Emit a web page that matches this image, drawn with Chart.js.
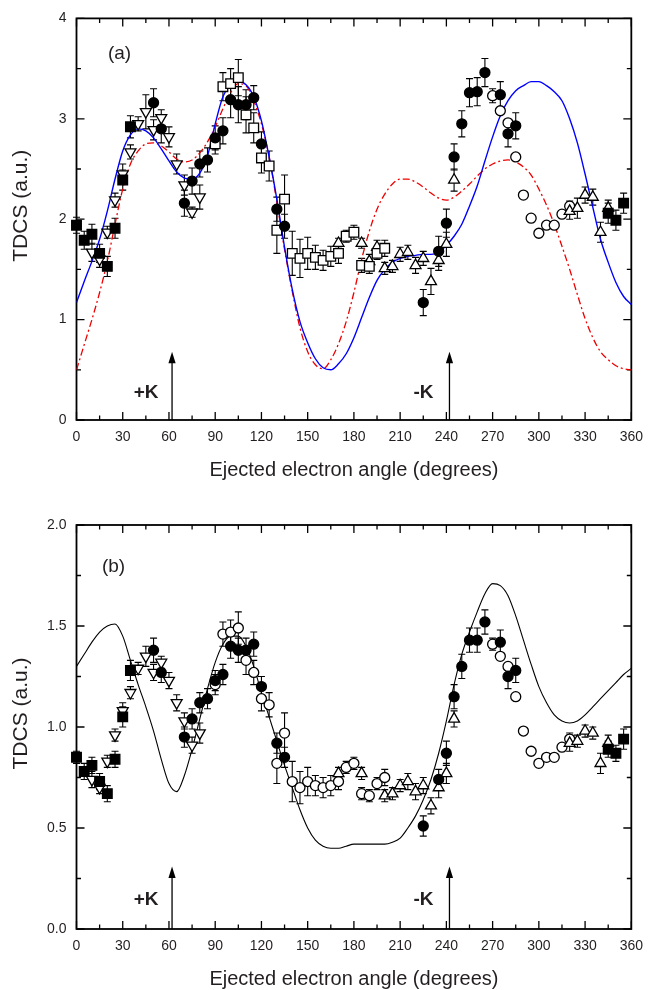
<!DOCTYPE html>
<html><head><meta charset="utf-8">
<script src="https://cdn.jsdelivr.net/npm/chart.js@4.4.1/dist/chart.umd.min.js"></script>
<style>
html,body{margin:0;padding:0;background:#fff;}
#wrap{position:relative;width:652px;height:990px;background:#fff;}
#ca{position:absolute;left:0;top:0;}
#cb{position:absolute;left:0;top:490px;}
</style></head><body>
<div id="wrap"><canvas id="ca" width="652" height="490"></canvas><canvas id="cb" width="652" height="500"></canvas></div>
<script>
// ---------- axes ----------
const xTickValues = [0,30,60,90,120,150,180,210,240,270,300,330,360];
const xTickLabels = ['0','30','60','90','120','150','180','210','240','270','300','330','360'];
const yTickValuesA = [0,1,2,3,4];
const yTickLabelsA = ['0','1','2','3','4'];
const yTickValuesB = [0,0.5,1,1.5,2];
const yTickLabelsB = ['0.0','0.5','1.0','1.5','2.0'];
const xTitle = 'Ejected electron angle (degrees)';
const yTitle = 'TDCS (a.u.)';
const arrowAngles = [62, 242];
const arrowLabels = ['+K', '-K'];

// ---------- panel (a) data ----------
const aSqFilledX = [0,5,10,15,20,25,30,35,345,350,355];
const aSqFilledY = [1.94,1.79,1.85,1.66,1.53,1.91,2.39,2.92,2.06,1.99,2.16];
const aSqFilledE = [0.08,0.09,0.1,0.09,0.1,0.1,0.1,0.11,0.1,0.1,0.1];

const aDnTriX = [10,15,20,25,30,35,40,45,50,55,60,65,70,75,80];
const aDnTriY = [1.67,1.60,1.87,2.19,2.45,2.67,2.95,3.07,2.89,3.01,2.82,2.55,2.34,2.07,2.22];
const aDnTriE = [0.09,0.08,0.06,0.07,0.1,0.07,0.07,0.17,0.1,0.08,0.1,0.1,0.1,0.05,0.12];

const aCircX = [50,55,70,75,80,85,90,95,100,105,110,115,120,130,135,225,235,240,245,250,255,260,265,275,280,285];
const aCircY = [3.16,2.90,2.16,2.38,2.55,2.59,2.81,2.88,3.19,3.14,3.14,3.21,2.75,2.10,1.93,1.17,1.68,1.96,2.62,2.95,3.26,3.27,3.46,3.24,2.85,2.93];
const aCircE = [0.14,0.14,0.13,0.13,0.13,0.12,0.12,0.13,0.18,0.18,0.15,0.12,0.12,0.12,0.12,0.13,0.15,0.14,0.13,0.13,0.14,0.14,0.14,0.13,0.13,0.13];

const aSqOpenX = [90,95,100,105,110,115,120,125,130,135,140,145,150,155,160,165,170,175,180,185,190,195,200];
const aSqOpenY = [2.75,3.32,3.35,3.41,3.04,2.91,2.61,2.53,1.89,2.20,1.66,1.61,1.66,1.62,1.59,1.63,1.66,1.83,1.87,1.54,1.53,1.66,1.71];
const aSqOpenE = [0.1,0.14,0.15,0.18,0.18,0.15,0.15,0.15,0.23,0.24,0.22,0.19,0.16,0.12,0.1,0.1,0.1,0.06,0.07,0.07,0.07,0.06,0.08];

const aUpTriX = [170,185,190,195,200,205,210,215,220,225,230,235,240,245,320,325,330,335,340,345];
const aUpTriY = [1.76,1.76,1.58,1.72,1.51,1.53,1.65,1.67,1.54,1.61,1.38,1.59,1.75,2.39,2.08,2.11,2.24,2.22,1.87,2.11];
const aUpTriE = [0.05,0.05,0.07,0.07,0.06,0.06,0.07,0.07,0.08,0.07,0.13,0.1,0.12,0.11,0.08,0.1,0.08,0.08,0.1,0.08];

const aCircOpenX = [270,275,280,285,290,295,300,305,310,315,320];
const aCircOpenY = [3.23,3.08,2.96,2.62,2.24,2.01,1.86,1.94,1.94,2.05,2.13];
const aCircOpenE = [0.07,0,0,0,0,0,0,0,0,0,0.05];

const curveX = [0,5,10,15,20,25,30,35,40,45,50,55,60,65,70,75,80,85,90,95,100,105,110,115,120,125,130,135,140,145,150,155,160,165,170,175,180,185,190,195,200,205,210,215,220,225,230,235,240,245,250,255,260,265,270,275,280,285,290,295,300,305,310,315,320,325,330,335,340,345,350,355,360];
const aBlueY = [1.17,1.38,1.58,1.80,2.08,2.40,2.68,2.84,2.90,2.88,2.81,2.70,2.58,2.47,2.41,2.40,2.46,2.63,2.95,3.22,3.34,3.37,3.34,3.22,2.98,2.62,2.20,1.72,1.30,0.98,0.77,0.61,0.52,0.50,0.56,0.66,0.82,1.02,1.22,1.39,1.50,1.57,1.61,1.63,1.64,1.65,1.65,1.67,1.74,1.83,1.95,2.13,2.33,2.58,2.82,3.03,3.18,3.28,3.33,3.37,3.37,3.33,3.27,3.18,3.00,2.76,2.45,2.12,1.80,1.57,1.37,1.23,1.15];
const aRedY = [0.50,0.75,1.00,1.27,1.58,1.95,2.30,2.55,2.68,2.75,2.76,2.73,2.67,2.60,2.57,2.59,2.66,2.77,2.92,3.10,3.26,3.35,3.33,3.18,2.95,2.62,2.17,1.70,1.28,0.92,0.68,0.55,0.51,0.60,0.76,0.98,1.27,1.60,1.88,2.10,2.25,2.35,2.40,2.40,2.37,2.32,2.26,2.21,2.19,2.22,2.28,2.35,2.43,2.50,2.55,2.58,2.59,2.57,2.52,2.44,2.30,2.14,1.95,1.73,1.50,1.25,1.01,0.82,0.68,0.60,0.54,0.51,0.50];

// ---------- panel (b) data ----------
const bSqFilledX = [0,5,10,15,20,25,30,35,345,350,355];
const bSqFilledY = [0.85,0.78,0.81,0.73,0.67,0.84,1.05,1.28,0.89,0.87,0.94];
const bSqFilledE = [0.03,0.04,0.04,0.04,0.04,0.04,0.05,0.05,0.04,0.04,0.05];

const bDnTriX = [10,15,20,25,30,35,40,45,50,55,60,65,70,75,80];
const bDnTriY = [0.74,0.70,0.83,0.96,1.08,1.17,1.29,1.35,1.27,1.32,1.23,1.12,1.03,0.91,0.97];
const bDnTriE = [0.04,0.03,0.03,0.03,0.04,0.03,0.03,0.05,0.04,0.03,0.04,0.04,0.04,0.04,0.05];

const bCircX = [50,55,70,75,80,85,90,95,100,105,110,115,120,130,135,225,235,240,245,250,255,260,265,275,280,285];
const bCircY = [1.38,1.27,0.95,1.04,1.12,1.14,1.23,1.26,1.40,1.38,1.38,1.41,1.20,0.92,0.85,0.51,0.74,0.87,1.15,1.30,1.43,1.43,1.52,1.42,1.25,1.28];
const bCircE = [0.06,0.05,0.05,0.05,0.05,0.05,0.05,0.05,0.06,0.06,0.06,0.06,0.05,0.05,0.05,0.05,0.05,0.06,0.06,0.06,0.06,0.06,0.06,0.06,0.06,0.06];

const bCircOpenX = [90,95,100,105,110,115,120,125,130,135,140,145,150,155,160,165,170,175,180,185,190,195,200,270,275,280,285,290,295,300,305,310,315,320];
const bCircOpenY = [1.21,1.46,1.47,1.49,1.33,1.27,1.14,1.11,0.82,0.97,0.73,0.70,0.73,0.71,0.70,0.71,0.73,0.80,0.82,0.67,0.66,0.72,0.75,1.41,1.35,1.30,1.15,0.98,0.88,0.82,0.85,0.85,0.90,0.94];
const bCircOpenE = [0.05,0.06,0.06,0.08,0.07,0.06,0.06,0.06,0.1,0.1,0.1,0.08,0.07,0.05,0.05,0.05,0.04,0.03,0.03,0.03,0.03,0.03,0.04,0.03,0,0,0,0,0,0,0,0,0,0.03];

const bUpTriX = [170,185,200,205,210,215,220,225,230,235,240,245,320,325,330,335,340,345];
const bUpTriY = [0.77,0.77,0.66,0.67,0.71,0.73,0.68,0.71,0.61,0.70,0.77,1.04,0.92,0.93,0.98,0.97,0.82,0.92];
const bUpTriE = [0.03,0.03,0.03,0.03,0.03,0.04,0.04,0.04,0.04,0.05,0.05,0.04,0.04,0.03,0.03,0.03,0.05,0.04];

const bCurveY = [1.30,1.36,1.42,1.47,1.50,1.51,1.45,1.33,1.21,1.10,0.98,0.84,0.72,0.68,0.76,0.89,1.04,1.19,1.32,1.41,1.45,1.45,1.40,1.30,1.17,1.05,0.93,0.81,0.70,0.59,0.50,0.44,0.41,0.40,0.40,0.41,0.42,0.42,0.42,0.42,0.42,0.43,0.45,0.50,0.56,0.64,0.74,0.87,1.03,1.21,1.36,1.47,1.57,1.66,1.71,1.70,1.65,1.55,1.43,1.31,1.20,1.12,1.06,1.03,1.02,1.03,1.06,1.10,1.14,1.18,1.22,1.26,1.29];

// ---------- helpers ----------
const FONT = "'Liberation Sans', Arial, Helvetica, sans-serif";
const INK = '#231f20';
Chart.defaults.font.family = FONT;
Chart.defaults.color = INK;

const pts = (xs, ys) => xs.map((v, i) => ({x: v, y: ys[i]}));

function markerSet(xs, ys, es, style, filled, rot) {
  const r = style === 'rect' ? 6.8 : (style === 'triangle' ? 6.3 : 5.0);
  return {
    type: 'scatter', data: pts(xs, ys), errors: es, showLine: false,
    pointStyle: style, pointRotation: rot || 0, pointRadius: r, pointHoverRadius: r,
    pointBorderWidth: 1.3, pointBorderColor: '#000',
    pointBackgroundColor: filled ? '#000' : '#fff', clip: false
  };
}
function curveSet(ys, color, width, dash) {
  return {
    type: 'line', data: pts(curveX, ys), borderColor: color, borderWidth: width,
    borderDash: dash || [], pointRadius: 0, cubicInterpolationMode: 'monotone', fill: false
  };
}

const decorPlugin = {
  id: 'decor',
  beforeDatasetsDraw(chart) {
    const o = chart.options.plugins.decor;
    const {ctx, chartArea: a} = chart;
    const x = chart.scales.x, y = chart.scales.y;
    // error bars
    ctx.save();
    ctx.strokeStyle = '#000'; ctx.lineWidth = 1.1;
    chart.data.datasets.forEach(ds => {
      if (!ds.errors) return;
      ds.data.forEach((p, j) => {
        const e = ds.errors[j]; if (!e) return;
        const px = x.getPixelForValue(p.x);
        const y1 = y.getPixelForValue(p.y + e), y2 = y.getPixelForValue(p.y - e);
        ctx.beginPath();
        ctx.moveTo(px, y1); ctx.lineTo(px, y2);
        ctx.moveTo(px - 3.5, y1); ctx.lineTo(px + 3.5, y1);
        ctx.moveTo(px - 3.5, y2); ctx.lineTo(px + 3.5, y2);
        ctx.stroke();
      });
    });
    ctx.restore();
    // frame and inward ticks
    ctx.save();
    ctx.strokeStyle = '#000'; ctx.lineWidth = 1.8;
    ctx.strokeRect(a.left, a.top, a.right - a.left, a.bottom - a.top);
    ctx.lineWidth = 1.3;
    ctx.beginPath();
    const xm = o.xMajor, ym = o.yMajor;
    xm.forEach((v, i) => {
      const px = x.getPixelForValue(v);
      ctx.moveTo(px, a.bottom); ctx.lineTo(px, a.bottom - 8);
      ctx.moveTo(px, a.top); ctx.lineTo(px, a.top + 8);
      if (i < xm.length - 1) {
        const pm = x.getPixelForValue((v + xm[i + 1]) / 2);
        ctx.moveTo(pm, a.bottom); ctx.lineTo(pm, a.bottom - 4.5);
        ctx.moveTo(pm, a.top); ctx.lineTo(pm, a.top + 4.5);
      }
    });
    ym.forEach((v, i) => {
      const py = y.getPixelForValue(v);
      ctx.moveTo(a.left, py); ctx.lineTo(a.left + 8, py);
      ctx.moveTo(a.right, py); ctx.lineTo(a.right - 8, py);
      if (i < ym.length - 1) {
        const pm = y.getPixelForValue((v + ym[i + 1]) / 2);
        ctx.moveTo(a.left, pm); ctx.lineTo(a.left + 4.5, pm);
        ctx.moveTo(a.right, pm); ctx.lineTo(a.right - 4.5, pm);
      }
    });
    ctx.stroke();
    // arrows
    ctx.lineWidth = 1.3; ctx.fillStyle = '#000';
    arrowAngles.forEach((ang, i) => {
      const px = x.getPixelForValue(ang);
      const top = y.getPixelForValue(o.arrowTop);
      ctx.beginPath(); ctx.moveTo(px, a.bottom); ctx.lineTo(px, top + 8); ctx.stroke();
      ctx.beginPath(); ctx.moveTo(px, top); ctx.lineTo(px - 3.6, top + 11.5); ctx.lineTo(px + 3.6, top + 11.5); ctx.closePath(); ctx.fill();
      ctx.font = 'bold 19px ' + FONT; ctx.fillStyle = INK;
      ctx.textAlign = 'center'; ctx.textBaseline = 'middle';
      ctx.fillText(arrowLabels[i], px - 26, a.bottom - o.labelDy);
      ctx.fillStyle = '#000';
    });
    // panel label
    ctx.font = '19px ' + FONT; ctx.fillStyle = INK;
    ctx.textAlign = 'center'; ctx.textBaseline = 'middle';
    ctx.fillText(o.panel, a.left + o.panelDx, a.top + o.panelDy);
    // y axis title
    ctx.save();
    ctx.translate(21, (a.top + a.bottom) / 2 - 13.5);
    ctx.rotate(-Math.PI / 2);
    ctx.font = '21px ' + FONT;
    ctx.fillText(yTitle, 0, 0);
    ctx.restore();
    ctx.restore();
  }
};

function makeChart(id, datasets, yMax, yVals, yLabels, dec, pad, xH) {
  return new Chart(document.getElementById(id), {
    type: 'scatter',
    data: {datasets},
    plugins: [decorPlugin],
    options: {
      responsive: false, animation: false, events: [],
      layout: {padding: pad},
      plugins: {legend: {display: false}, tooltip: {enabled: false}, decor: dec},
      scales: {
        x: {
          type: 'linear', min: 0, max: 360,
          afterBuildTicks: s => { s.ticks = xTickValues.map(v => ({value: v})); },
          afterFit: s => { s.height = xH; },
          ticks: {autoSkip: false, maxRotation: 0, padding: 9, color: INK, font: {size: 14},
                  callback: v => xTickLabels[xTickValues.indexOf(v)]},
          grid: {display: false, drawTicks: false}, border: {display: false},
          title: {display: true, text: xTitle, color: INK, font: {size: 20, lineHeight: 1.0}, padding: {top: 0, bottom: dec.xTitlePad}}
        },
        y: {
          type: 'linear', min: 0, max: yMax,
          afterBuildTicks: s => { s.ticks = yVals.map(v => ({value: v})); },
          afterFit: s => { s.width = 76.5; },
          ticks: {padding: 10, color: INK, font: {size: 14},
                  callback: v => yLabels[yVals.indexOf(v)]},
          grid: {display: false, drawTicks: false}, border: {display: false},
          title: {display: false}
        }
      }
    }
  });
}

makeChart('ca', [
  markerSet(aSqFilledX, aSqFilledY, aSqFilledE, 'rect', true),
  markerSet(aCircX, aCircY, aCircE, 'circle', true),
  markerSet(aDnTriX, aDnTriY, aDnTriE, 'triangle', false, 180),
  markerSet(aSqOpenX, aSqOpenY, aSqOpenE, 'rect', false),
  markerSet(aUpTriX, aUpTriY, aUpTriE, 'triangle', false),
  markerSet(aCircOpenX, aCircOpenY, aCircOpenE, 'circle', false),
  curveSet(aBlueY, '#0000ff', 1.4),
  curveSet(aRedY, '#ee0000', 1.3, [7, 3, 2, 3])
], 4, yTickValuesA, yTickLabelsA,
  {xMajor: xTickValues, yMajor: yTickValuesA, arrowTop: 0.68, labelDy: 27, panel: '(a)', panelDx: 43, panelDy: 35, xTitlePad: 10},
  {top: 18, right: 14.5, left: 0, bottom: 0}, 70);

makeChart('cb', [
  markerSet(bSqFilledX, bSqFilledY, bSqFilledE, 'rect', true),
  markerSet(bCircX, bCircY, bCircE, 'circle', true),
  markerSet(bDnTriX, bDnTriY, bDnTriE, 'triangle', false, 180),
  markerSet(bUpTriX, bUpTriY, bUpTriE, 'triangle', false),
  markerSet(bCircOpenX, bCircOpenY, bCircOpenE, 'circle', false),
  curveSet(bCurveY, '#000000', 1.1)
], 2, yTickValuesB, yTickLabelsB,
  {xMajor: xTickValues, yMajor: yTickValuesB, arrowTop: 0.31, labelDy: 29, panel: '(b)', panelDx: 37, panelDy: 41.5, xTitlePad: 1},
  {top: 35, right: 14.5, left: 0, bottom: 0}, 61);
</script>
</body></html>
